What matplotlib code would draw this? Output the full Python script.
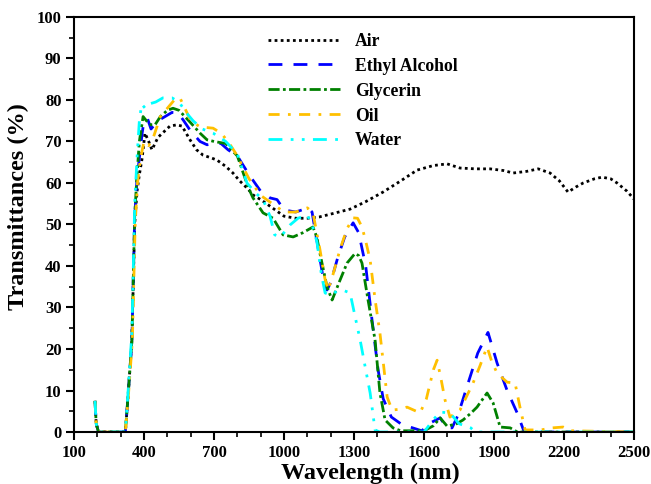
import matplotlib.pyplot as plt
import numpy as np
from matplotlib.ticker import MultipleLocator

# Dados (comprimento de onda em nm, transmitância em %)
ar_x = [190, 195, 205, 320, 332, 348, 360, 370, 380, 392, 404, 420, 434, 460, 511, 540, 563, 597, 625,
        653, 690, 713, 750, 781, 810, 841, 870, 900, 950, 1000, 1050, 1100, 1150, 1200, 1283, 1350,
        1424, 1500, 1570, 1640, 1699, 1754, 1820, 1883, 1940, 1982, 2040, 2089, 2140, 2180, 2217,
        2250, 2282, 2330, 2363, 2400, 2427, 2470, 2500]
ar_y = [7.5, 2, 0, 0, 9, 22, 50, 58, 62, 66, 72, 70, 68, 71, 73.7, 74, 73.7, 70.4, 68,
        66.7, 66, 65.5, 64, 62.4, 60.5, 58.8, 57, 56, 54, 52, 51.5, 51.5, 51.8, 52.5, 53.7, 55.5,
        57.8, 60.5, 63.1, 64.2, 64.6, 63.6, 63.4, 63.4, 63, 62.4, 62.8, 63.4, 62.4, 60.5, 57.8,
        59, 60, 61, 61.4, 61, 60, 58, 56.1]

etanol_x = [190, 195, 205, 320, 332, 348, 360, 370, 380, 392, 400, 415, 430, 460, 490, 520, 546, 570,
            600, 640, 670, 700, 730, 760, 800, 850, 900, 940, 970, 1000, 1050, 1103, 1120, 1141, 1165,
            1184, 1200, 1230, 1260, 1296, 1320, 1350, 1377, 1403, 1425, 1446, 1460, 1500, 1540, 1590,
            1634, 1669, 1697, 1720, 1745, 1790, 1830, 1874, 1890, 1913, 1956, 1999, 2026, 2050, 2500]
etanol_y = [7.5, 2, 0, 0, 9, 22, 52, 61, 66, 72, 75, 75.5, 73, 75, 76, 77, 76.9, 75,
            72.5, 70, 69.2, 69.5, 69.5, 68, 66.5, 62, 58, 56.4, 56, 53.5, 53, 54, 53, 46, 38,
            34.2, 36, 42, 47, 50.4, 48, 40, 27, 15, 8, 5.3, 3.6, 2, 1.2, 0.3,
            2.4, 3.4, 1, 1, 4, 12, 19, 24, 21, 16.6, 10, 4.6, 0.5, 0, 0]

glicerina_x = [190, 195, 205, 320, 332, 348, 360, 370, 380, 396, 410, 430, 447, 470, 500, 524, 550,
               575, 600, 640, 670, 700, 750, 800, 846, 867, 910, 953, 996, 1039, 1080, 1124, 1140,
               1154, 1184, 1206, 1240, 1270, 1304, 1320, 1334, 1360, 1390, 1411, 1433, 1467, 1500,
               1600, 1640, 1669, 1699, 1740, 1767, 1800, 1827, 1870, 1896, 1926, 1969, 2000, 2500]
glicerina_y = [7.5, 2, 0, 0, 9, 22, 52, 62, 70, 76, 75, 74, 74, 76, 77.5, 78, 77.5,
               76, 74.5, 72, 70.4, 70, 69.5, 66.5, 59, 56.4, 52.8, 51.5, 47.5, 47, 48, 49.4, 47,
               43, 35, 31.8, 36.6, 40.7, 43, 42.5, 40.7, 31.8, 22.2, 9.4, 2.9, 1, 0.3,
               0.3, 1.5, 3.4, 1.4, 2, 2.9, 4.5, 6, 9.4, 7, 1.2, 1, 0, 0]

oleo_x = [190, 195, 205, 320, 332, 350, 362, 372, 385, 400, 420, 440, 470, 500, 530, 554, 575, 600,
          640, 696, 730, 760, 798, 850, 900, 950, 1000, 1050, 1100, 1124, 1154, 1175, 1189, 1210,
          1240, 1270, 1296, 1315, 1334, 1350, 1369, 1390, 1411, 1442, 1463, 1500, 1527, 1583, 1610,
          1640, 1656, 1672, 1690, 1711, 1754, 1810, 1840, 1870, 1890, 1913, 1956, 1990, 2011, 2033,
          2100, 2150, 2196, 2230, 2500]
oleo_y = [7.5, 2, 0, 0, 8, 22, 50, 60, 66, 70, 69, 71, 76, 78, 80, 80.5, 78, 75,
          73.5, 73.2, 72, 70, 66.7, 61, 57, 55, 53, 53, 54, 52.8, 43.9, 37, 34.2, 38,
          44, 49, 51.6, 51.5, 49.4, 46, 41.4, 32, 23.8, 8.4, 5.3, 5.5, 6, 4.6, 8,
          15, 17.3, 13, 7.7, 3.6, 5.3, 11.8, 16, 20.5, 17, 14.2, 12, 11.8, 6, 0.5,
          0.5, 1, 1.2, 0.3, 0]

agua_x = [190, 195, 205, 320, 332, 348, 360, 370, 380, 390, 405, 420, 450, 481, 520, 550, 580, 610,
          650, 696, 750, 800, 841, 880, 910, 940, 960, 985, 1026, 1060, 1099, 1120, 1141, 1160,
          1176, 1197, 1230, 1260, 1283, 1300, 1326, 1350, 1369, 1390, 1410, 1600, 1640, 1669,
          1711, 1750, 1800, 1820, 2500]
agua_y = [7.5, 2, 0, 0, 10, 24, 55, 66, 75, 79, 78, 79, 79.5, 80.5, 80.5, 79.5, 77, 75,
          73, 72, 70, 67, 60, 57.5, 56, 52, 47.5, 47, 49.9, 51.5, 52.3, 50, 45.8, 38,
          33.5, 33, 34, 34, 33.5, 29, 22.2, 15, 9.4, 0.5, 0, 0, 3, 4.8,
          4.6, 2, 1, 0, 0]

plt.rcParams['font.family'] = 'Liberation Serif'
plt.rcParams['font.weight'] = 'bold'

fig = plt.figure(figsize=(6.51, 4.84), dpi=100)
ax = fig.add_axes([0.1137, 0.1074, 0.8603, 0.8576])

ax.plot(ar_x, ar_y, color='black', linestyle=(0, (1, 1.2)), linewidth=2, label='Air')
ax.plot(etanol_x, etanol_y, color='#0000FF', linestyle=(0, (5, 4)), linewidth=2, label='Ethyl Alcohol')
ax.plot(glicerina_x, glicerina_y, color='#008000', linestyle=(0, (4, 1.2, 1, 1.2)), linewidth=2,
        label='Glycerin')
ax.plot(oleo_x, oleo_y, color='#FFC000', linestyle=(0, (4, 3, 1, 3)), linewidth=2, label='Oil')
ax.plot(agua_x, agua_y, color='#00FFFF', linestyle=(0, (5, 3, 1, 3, 1, 3)), linewidth=2, label='Water')

ax.set_xlim(100, 2500)
ax.set_ylim(0, 100)
# Marcações principais de 300 em 300 a partir de 100
ax.xaxis.set_major_locator(MultipleLocator(300, offset=100))
ax.xaxis.set_minor_locator(MultipleLocator(100))
ax.yaxis.set_major_locator(MultipleLocator(10))
ax.yaxis.set_minor_locator(MultipleLocator(5))
ax.tick_params(which='major', direction='out', length=6, width=1.5, labelsize=12, pad=3)
ax.tick_params(which='minor', direction='out', length=3.5, width=1.2)
for sp in ax.spines.values():
    sp.set_linewidth(1.5)

ax.set_xlabel('Wavelength (nm)', fontsize=17.5, fontweight='bold', labelpad=0)
ax.set_ylabel('Transmittances (%)', fontsize=17.5, fontweight='bold', labelpad=4)
ax.xaxis.set_label_coords(0.529, -0.075)
ax.yaxis.set_label_coords(-0.080, 0.542)

ax.legend(loc='upper left', bbox_to_anchor=(0.346, 0.962), frameon=False, fontsize=12.7,
          handlelength=4.1, handletextpad=0.85, labelspacing=0.45, borderaxespad=0,
          borderpad=0)

fig.savefig('out.png', dpi=100)
